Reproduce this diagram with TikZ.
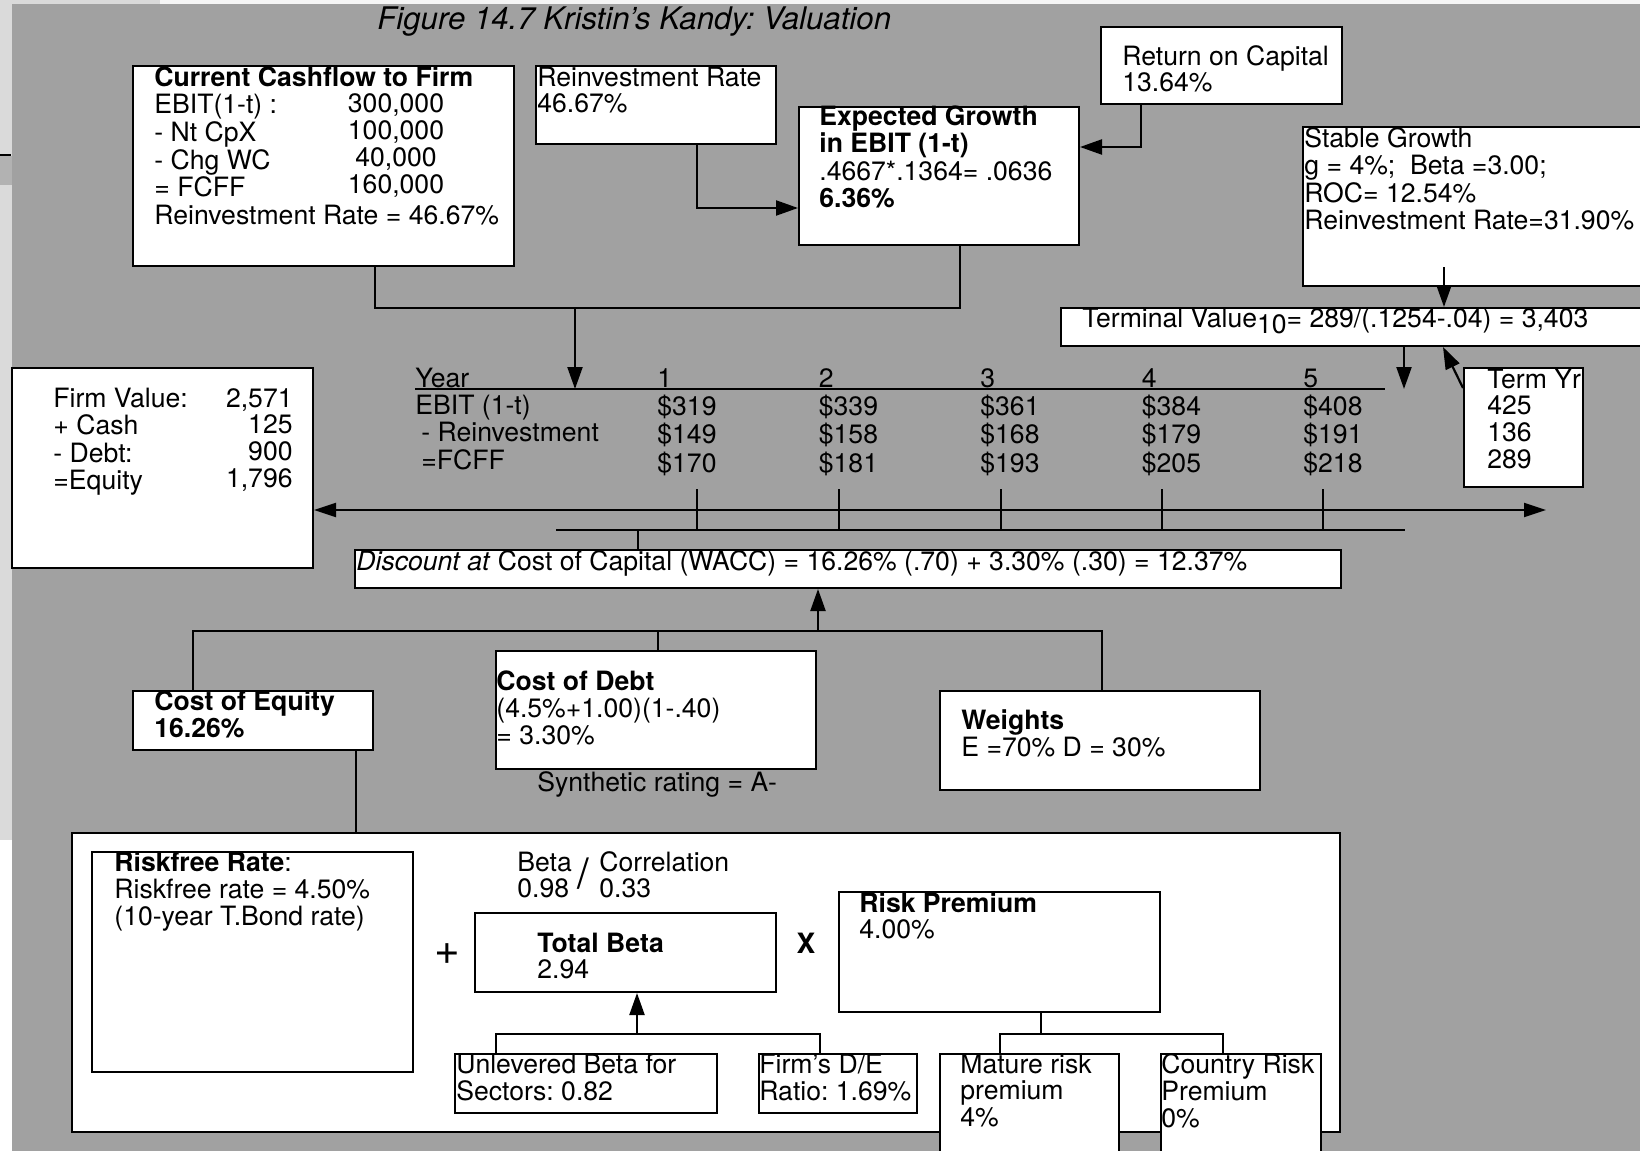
\documentclass[tikz,border=0pt]{standalone}
\usepackage{fontspec}
\setmainfont{TeX Gyre Heros}
\usepackage{tikz}
\usetikzlibrary{arrows.meta}
\usetikzlibrary{positioning,fit}
\definecolor{bggray}{RGB}{161,161,161}
\definecolor{stripgray}{RGB}{218,218,218}
\newcommand{\Lines}[2][l]{\begin{tabular}[t]{@{}#1@{}}#2\end{tabular}}
\frenchspacing

\begin{document}
\begin{tikzpicture}[
	x=0.5pt, y=-0.5pt,
	MyBoxes/.style={draw=black,fill=white,line width=1pt,inner sep=0pt},
	Links/.style={draw=black,line width=1.1pt},
	Arrows/.style={Links,-{Triangle[length=11pt, width=7.5pt]}},
	BodyText/.style={anchor=base west,inner sep=0pt,font=\fontsize{13.3}{13.3}\selectfont}
	]
	\useasboundingbox (0,0) rectangle (1640,1151);
	
	% screen background
	\fill[stripgray] (0,0) rectangle (12,840);
	\fill[white] (0,840) rectangle (12,1151);
	\fill[stripgray] (0,0) rectangle (160,4);
	\fill[white!92!gray] (160,0) rectangle (1640,4);
	\fill[gray!60] (0,156) rectangle (12,185);
	\draw[line width=1pt] (0,155) -- (11,155);
	\fill[bggray] (12,4) rectangle (1640,1151);
	
	% boxes
	\node[MyBoxes, fit={(133,66) (514,266)}] (CCF) {};
	\node[MyBoxes, fit={(536,66) (776,144)}] (RR) {};
	\node[MyBoxes, fit={(799,107) (1079,245)}] (EG) {};
	\node[MyBoxes, fit={(1101,27) (1342,104)}] (ROC) {};
	\node[MyBoxes, fit={(1303,127) (1660,286)}] (SG) {};
	\node[MyBoxes, fit={(1061,308) (1660,346)}] (TV) {};
	\node[MyBoxes, fit={(12,368) (313,568)}] (FV) {};
	\node[MyBoxes, fit={(1464,368) (1583,487)}] (TY) {};
	\node[MyBoxes, fit={(355,550) (1341,588)}] (WACC) {};
	\node[MyBoxes, fit={(133,691) (373,750)}] (CoE) {};
	\node[MyBoxes, fit={(496,651) (816,769)}] (CoD) {};
	\node[MyBoxes, fit={(940,691) (1260,790)}] (Wts) {};
	\node[MyBoxes, fit={(72,833) (1340,1132)}] (Main) {};
	\node[MyBoxes, fit={(92,852) (413,1072)}] (RF) {};
	\node[MyBoxes, fit={(475,913) (776,992)}] (TB) {};
	\node[MyBoxes, fit={(839,892) (1160,1012)}] (RP) {};
	\node[MyBoxes, fit={(455,1054) (717,1113)}] (UB) {};
	\node[MyBoxes, fit={(759,1054) (917,1113)}] (DE) {};
	\node[MyBoxes, fit={(940,1054) (1119,1170)}] (MRP) {};
	\node[MyBoxes, fit={(1161,1054) (1321,1170)}] (CRP) {};
	
	% growth inputs
	\coordinate (K1) at (697,208);
	\draw[Arrows] (K1 |- RR.south) |- (K1 -| EG.west);
	\coordinate (K2) at (1141,147);
	\draw[Arrows] (K2 |- ROC.south) |- (K2 -| EG.east);
	
	% into the cash flow table
	\coordinate (YL) at (415,389);
	\coordinate (YR) at (1385,389);
	\draw[Links] (YL) -- (YR);
	\coordinate (K3) at (375,308);
	\coordinate (K4) at (960,308);
	\coordinate (K5) at (575,308);
	\draw[Links] (K3 |- CCF.south) -- (K3) -- (K4) -- (K4 |- EG.south);
	\draw[Arrows] (K5) -- (K5 |- YL);
	
	% terminal value
	\coordinate (K6) at (1444,267);
	\draw[Arrows] (K6) -- (K6 |- TV.north);
	\coordinate (K7) at (1404,0);
	\draw[Arrows] (K7 |- TV.south) -- (K7 |- YL);
	\coordinate (K8) at (1443,0);
	\draw[Arrows] ([yshift=-10.5pt]TY.north west) -- (K8 |- TV.south);
	
	% time line
	\coordinate (TL) at (1546,510);
	\draw[Links,{Triangle[length=11pt, width=7pt]}-{Triangle[length=11pt, width=7pt]}] (TL -| FV.east) -- (TL);
	\foreach \x in {697,839,1001,1162,1323}
	{ \draw[Links] (\x,489) -- (\x,530);
	}
	\draw[Links] (556,530) -- (1405,530);
	\coordinate (K9) at (638,530);
	\draw[Links] (K9) -- (K9 |- WACC.north);
	
	% cost of capital inputs
	\coordinate (K10) at (818,631);
	\draw[Arrows] (K10) -- (K10 |- WACC.south);
	\coordinate (K11) at (193,631);
	\coordinate (K12) at (1102,631);
	\coordinate (K13) at (658,631);
	\draw[Links] (K11 |- CoE.north) -- (K11) -- (K12) -- (K12 |- Wts.north);
	\draw[Links] (K13) -- (K13 |- CoD.north);
	\coordinate (K14) at (356,0);
	\draw[Links] (K14 |- CoE.south) -- (K14 |- Main.north);
	
	% beta and risk premium
	\coordinate (K15) at (637,1034);
	\draw[Arrows] (K15) -- (K15 |- TB.south);
	\coordinate (K16) at (496,1034);
	\coordinate (K17) at (820,1034);
	\draw[Links] (K16 |- UB.north) -- (K16) -- (K17) -- (K17 |- DE.north);
	\coordinate (K18) at (1041,1034);
	\draw[Links] (K18 |- RP.south) -- (K18);
	\coordinate (K19) at (1000,1034);
	\coordinate (K20) at (1223,1034);
	\draw[Links] (K19 |- MRP.north) -- (K19) -- (K20) -- (K20 |- CRP.north);
	
	% texts
	\node[BodyText, font=\fontsize{15.6}{15.6}\selectfont\itshape] (Title) at (377,29) {Figure 14.7 Kristin’s Kandy: Valuation};
	\node[BodyText] (CCFtxt) at (154,86) {\Lines{\textbf{Current Cashflow to Firm}\\EBIT(1-t) :\\- Nt CpX\\- Chg WC\\= FCFF\\Reinvestment Rate = 46.67\%}};
	\node[BodyText, anchor=base] (CCFval) at (396,112.6) {\Lines[c]{300,000\\100,000\\40,000\\160,000}};
	\node[BodyText] (RRtxt) at (537,86) {\Lines{Reinvestment Rate\\46.67\%}};
	\node[BodyText] (EGtxt) at (819,125) {\Lines{\textbf{Expected Growth}\\\textbf{in EBIT (1-t)}\\.4667*.1364= .0636\\\textbf{6.36\%}}};
	\node[BodyText] (ROCtxt) at (1122,65) {\Lines{Return on Capital\\13.64\%}};
	\node[BodyText] (SGtxt) at (1304,147) {\Lines{Stable Growth\\g = 4\%;~ Beta =3.00;\\ROC= 12.54\%\\Reinvestment Rate=31.90\%}};
	\node[BodyText] (TVtxt) at (1082,327) {Terminal Value\raisebox{-3pt}{10}= 289/(.1254-.04) = 3,403};
	\node[BodyText] (FVtxt) at (53,407) {\Lines{Firm Value:\\+ Cash\\- Debt:\\=Equity}};
	\node[BodyText, anchor=base east] (FVval) at (293,407) {\Lines[r]{2,571\\125\\900\\1,796}};
	\node[BodyText] (Ylab) at (415,387) {\Lines{Year\\EBIT (1-t)\\\hspace*{3pt}- Reinvestment\\\hspace*{3pt}=FCFF}};
	\foreach \i/\a/\b/\c in {1/319/149/170,2/339/158/181,3/361/168/193,4/384/179/205,5/408/191/218}
	{ \node[BodyText] (Y\i) at ({657+161.5*(\i-1)},387) {\Lines{\i\\\$\a\\\$\b\\\$\c}};
	}
	\node[BodyText] (TYtxt) at (1487,388) {\Lines{Term Yr\\425\\136\\289}};
	\node[BodyText] (WACCtxt) at (356,570) {\textit{Discount at} Cost of Capital (WACC) = 16.26\% (.70) + 3.30\% (.30) = 12.37\%};
	\node[BodyText] (CoEtxt) at (154,710) {\Lines{\textbf{Cost of Equity}\\\textbf{16.26\%}}};
	\node[BodyText] (CoDtxt) at (496,690) {\Lines{\textbf{Cost of Debt}\\(4.5\%+1.00)(1-.40)\\= 3.30\%}};
	\node[BodyText] (Rating) at (537,791) {Synthetic rating = A-};
	\node[BodyText] (Wtstxt) at (961,729) {\Lines{\textbf{Weights}\\E =70\% D = 30\%}};
	\node[BodyText] (RFtxt) at (114,871) {\Lines{\textbf{Riskfree Rate}:\\Riskfree rate = 4.50\%\\(10-year T.Bond rate)}};
	\node[BodyText] (Beta) at (517,871) {\Lines{Beta\\0.98}};
	\node[BodyText, anchor=base, font=\fontsize{21}{21}\selectfont] (Slash) at (583,888) {/};
	\node[BodyText] (Corr) at (599,871) {\Lines{Correlation\\0.33}};
	\node[BodyText, anchor=center, font=\fontsize{22}{22}\selectfont] (Plus) at (447,954) {+};
	\node[BodyText] (TBtxt) at (537,952) {\Lines{\textbf{Total Beta}\\2.94}};
	\node[BodyText, anchor=center, font=\fontsize{14}{14}\selectfont\bfseries] (Times) at (806,943) {X};
	\node[BodyText] (RPtxt) at (859,912) {\Lines{\textbf{Risk Premium}\\4.00\%}};
	\node[BodyText] (UBtxt) at (456,1073) {\Lines{Unlevered Beta for\\Sectors: 0.82}};
	\node[BodyText] (DEtxt) at (759,1073) {\Lines{Firm’s D/E\\Ratio: 1.69\%}};
	\node[BodyText] (MRPtxt) at (960,1073) {\Lines{Mature risk\\premium\\4\%}};
	\node[BodyText] (CRPtxt) at (1161,1073) {\Lines{Country Risk\\Premium\\0\%}};
	
\end{tikzpicture}
\end{document}
